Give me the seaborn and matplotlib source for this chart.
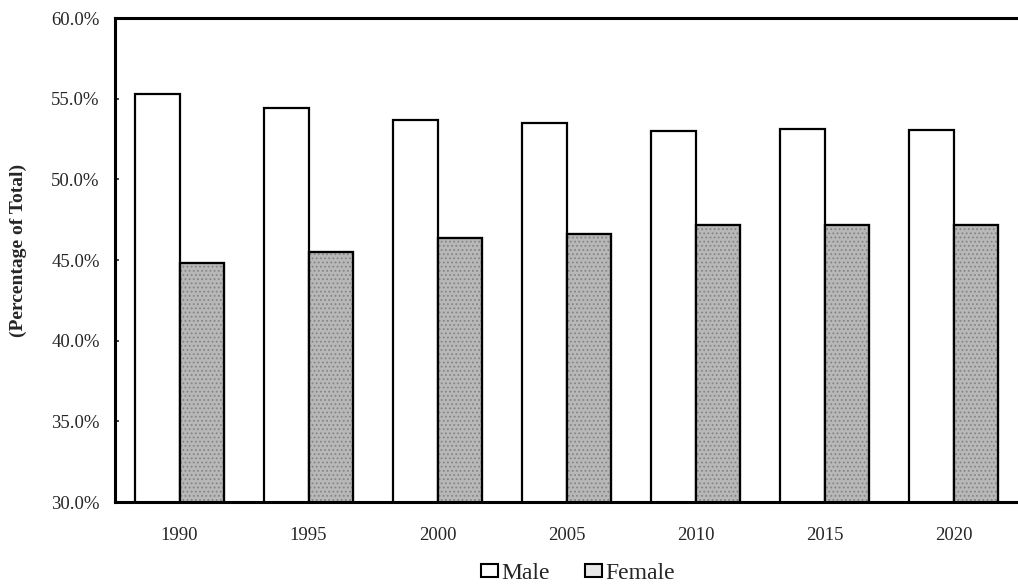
import matplotlib
matplotlib.use("Agg")
import matplotlib.pyplot as plt
import seaborn as sns
import pandas as pd
from matplotlib.patches import Patch, Rectangle
from matplotlib.ticker import FuncFormatter

years = ["1990", "1995", "2000", "2005", "2010", "2015", "2020"]
male = [55.3, 54.4, 53.7, 53.5, 53.0, 53.1, 53.05]
female = [44.8, 45.5, 46.4, 46.6, 47.2, 47.2, 47.2]
series = ["Male", "Female"]
colors = {"Male": "#ffffff", "Female": "#b8b8b8"}

df = pd.DataFrame({
    "Year": years * 2,
    "Value": male + female,
    "Sex": ["Male"] * len(years) + ["Female"] * len(years),
})

sns.set_style("white")
plt.rcParams["font.family"] = ["Liberation Serif", "DejaVu Serif"]
plt.rcParams["hatch.linewidth"] = 0.8

fig = plt.figure(figsize=(10.18, 5.86), dpi=100)
ax = fig.add_axes([0.113, 0.1433, 0.887, 0.8257])

sns.barplot(data=df, x="Year", y="Value", hue="Sex", order=years, hue_order=series,
            palette=colors, width=0.69, edgecolor="black", linewidth=1.6,
            ax=ax, legend=False)

# stippled texture for female bars, with a black outline on top
for p in list(ax.patches):
    if abs(p.get_facecolor()[0] - 1.0) > 0.01:
        p.set_hatch("....")
        p.set_edgecolor("#858585")
        ax.add_patch(Rectangle(p.get_xy(), p.get_width(), p.get_height(),
                               fill=False, edgecolor="black", linewidth=1.6, zorder=p.get_zorder() + 0.1))

ax.set_ylim(30, 60)
ax.set_yticks([30, 35, 40, 45, 50, 55, 60])
ax.yaxis.set_major_formatter(FuncFormatter(lambda v, _: f"{v:.1f}%"))
ax.set_xlabel("")
ax.set_ylabel("(Percentage of Total)", fontsize=14, fontweight="bold")
ax.yaxis.set_label_coords(-0.098, 0.52)
ax.tick_params(axis="y", direction="in", length=3, width=1.2, labelsize=13.5, pad=11, left=True)
ax.tick_params(axis="x", length=0, labelsize=13.5, pad=18)

for side in ["left", "bottom", "top"]:
    ax.spines[side].set_visible(True)
    ax.spines[side].set_color("black")
    ax.spines[side].set_linewidth(2.2)
ax.spines["right"].set_visible(False)

handles = [Patch(facecolor=("#ffffff" if s == "Male" else "#e8e8e8"), edgecolor="black", linewidth=1.5)
           for s in series]
ax.legend(handles, series, loc="center", bbox_to_anchor=(0.513, -0.147), ncol=2,
          frameon=False, fontsize=17, handlelength=0.7, handleheight=0.5,
          handletextpad=0.15, columnspacing=1.5, borderpad=0.1)

fig.savefig("out.png", dpi=100)
